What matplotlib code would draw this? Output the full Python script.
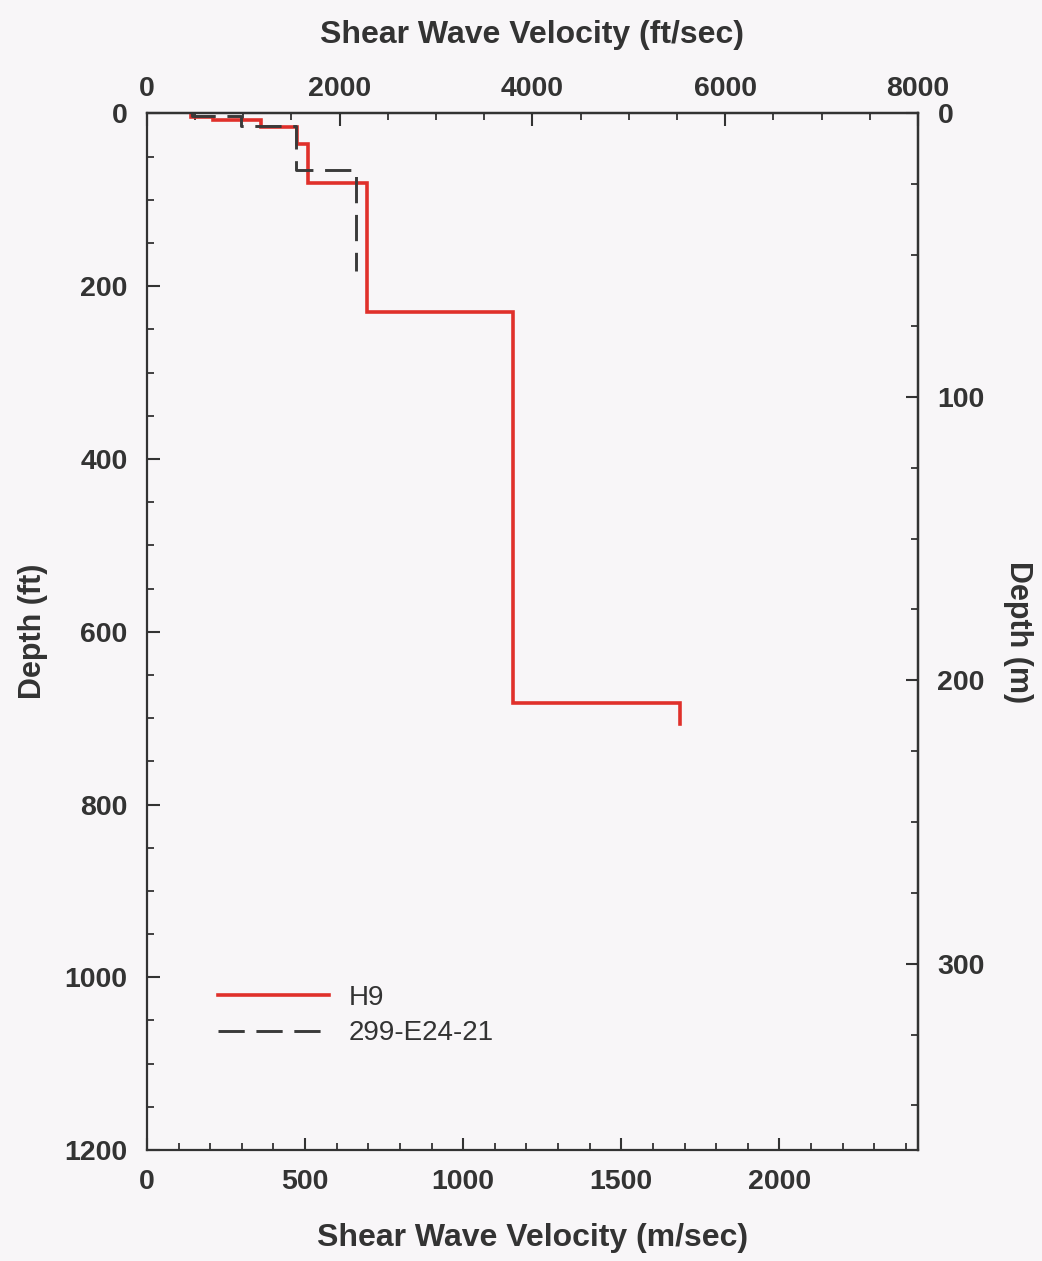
import numpy as np
import matplotlib
matplotlib.use('Agg')
import matplotlib.pyplot as plt

plt.rcParams['font.family'] = ['Liberation Sans', 'DejaVu Sans']

# Шари профілю: швидкість (м/с) та межі шарів за глибиною (фути)
h9_vs = [140, 210, 360, 474, 510, 697, 1159, 1687]
h9_depth = [0, 4, 8, 16, 35, 80, 230, 682, 707]

ref_vs = [142, 296, 471, 662]
ref_depth = [0, 3, 14, 66, 182]

FT_PER_M = 3.28084


def step_profile(vs, depth):
    # кожен шар - вертикальний відрізок від верху до низу
    x = np.repeat(vs, 2)
    y = np.repeat(depth, 2)[1:-1]
    return x, y


bg = '#f8f6f8'
fig = plt.figure(figsize=(10.42, 12.61), dpi=100, facecolor=bg)
ax = fig.add_axes([0.141, 0.088, 0.740, 0.822], facecolor=bg)

x, y = step_profile(h9_vs, h9_depth)
ax.plot(x, y, color='#e0302b', lw=2.6, label='H9', solid_joinstyle='miter')
x, y = step_profile(ref_vs, ref_depth)
ax.plot(x, y, color='#3a3a3a', lw=2.1, dashes=(9, 4), label='299-E24-21')

ax.set_xlim(0, 8000 / FT_PER_M)
ax.set_ylim(1200, 0)

ax.set_xticks([0, 500, 1000, 1500, 2000])
ax.set_xticks(np.arange(0, 2401, 100), minor=True)
ax.set_yticks(np.arange(0, 1201, 200))
ax.set_yticks(np.arange(0, 1201, 50), minor=True)

ax.set_xlabel('Shear Wave Velocity (m/sec)', fontsize=23, fontweight='bold',
              color='#333333', labelpad=20)
ax.set_ylabel('Depth (ft)', fontsize=22, fontweight='bold', color='#333333',
              labelpad=12)

# верхня вісь у ft/sec та права вісь у метрах
top = ax.secondary_xaxis('top', functions=(lambda v: v * FT_PER_M, lambda v: v / FT_PER_M))
top.set_xticks([0, 2000, 4000, 6000, 8000])
top.set_xticks(np.arange(0, 8001, 500), minor=True)
top.set_xlabel('Shear Wave Velocity (ft/sec)', fontsize=23, fontweight='bold',
               color='#333333', labelpad=24)

right = ax.secondary_yaxis('right', functions=(lambda d: d / FT_PER_M, lambda d: d * FT_PER_M))
right.set_yticks([0, 100, 200, 300])
right.set_yticks(np.arange(0, 366, 25), minor=True)
right.set_ylabel('Depth (m)', fontsize=22, fontweight='bold', color='#333333',
                 rotation=-90, labelpad=35)

for a in (ax, top, right):
    a.tick_params(which='major', direction='in', length=9, width=1.5,
                  labelsize=20.5, colors='#333333', pad=14)
    a.tick_params(which='minor', direction='in', length=5, width=1.3, colors='#333333')
    for lbl in a.get_xticklabels() + a.get_yticklabels():
        lbl.set_fontweight('bold')
top.tick_params(which='major', pad=8)

for s in ax.spines.values():
    s.set_linewidth(1.6)
    s.set_color('#333333')
top.spines['top'].set_linewidth(1.6)
right.spines['right'].set_linewidth(1.6)

ax.legend(loc='lower left', bbox_to_anchor=(0.06, 0.076), frameon=False,
          fontsize=20, handlelength=4.0, labelspacing=0.35, handletextpad=0.7,
          labelcolor='#333333')

fig.savefig('out.png', dpi=100, facecolor=bg)
